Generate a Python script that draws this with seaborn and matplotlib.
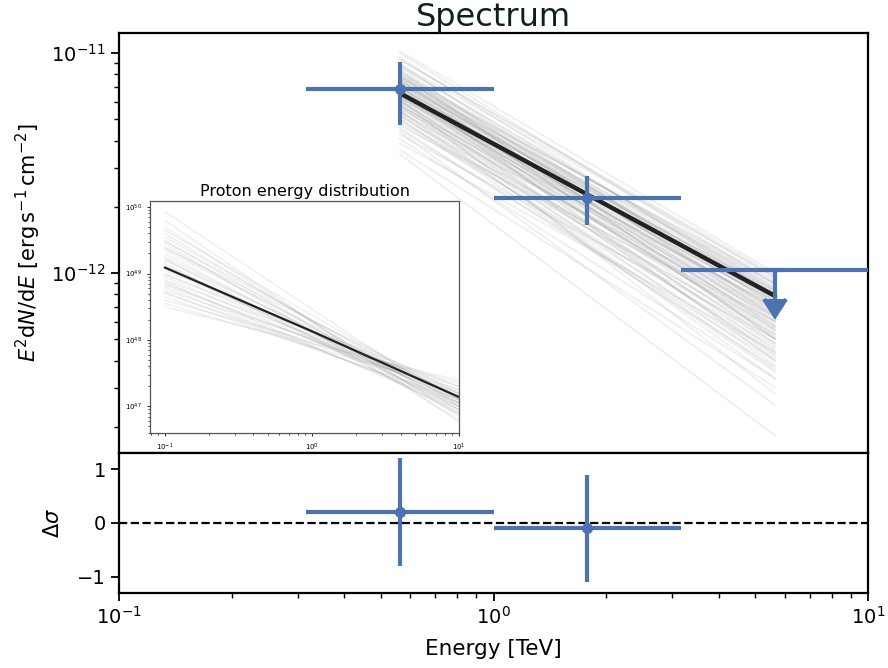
import numpy as np
import pandas as pd
import matplotlib
matplotlib.use("Agg")
import matplotlib.pyplot as plt
import seaborn as sns

# ---------------- data ----------------
point_energy = [0.562, 1.78]
point_e_lo = [0.316, 1.0]
point_e_hi = [1.0, 3.16]
point_flux = [6.86e-12, 2.20e-12]
point_flux_lo = [4.71e-12, 1.66e-12]
point_flux_hi = [9.10e-12, 2.75e-12]

ul_energy = [5.65]
ul_e_lo = [3.16]
ul_e_hi = [10.0]
ul_flux = [1.03e-12]
ul_arrow_end = [7.6e-13]

resid = [0.2, -0.1]
resid_err = [1.0, 1.0]

model_energy = [0.562, 5.65]
model_flux = [6.57e-12, 7.86e-13]

sample_log_start = [-10.99, -11.00, -11.02, -11.03, -11.05, -11.06, -11.07, -11.08,
                    -11.09, -11.10, -11.10, -11.11, -11.12, -11.12, -11.13, -11.14,
                    -11.14, -11.15, -11.16, -11.16, -11.17, -11.18, -11.18, -11.19,
                    -11.20, -11.20, -11.21, -11.22, -11.22, -11.23, -11.24, -11.24,
                    -11.25, -11.26, -11.27, -11.28, -11.29, -11.30, -11.31, -11.32,
                    -11.33, -11.35, -11.37, -11.39, -11.41, -11.44, -11.46, -11.36,
                    -11.15, -11.08, -11.05, -11.13, -11.19, -11.26, -11.21, -11.11,
                    -11.17, -11.23, -11.09, -11.28, -11.12, -11.14, -11.16, -11.18,
                    -11.19, -11.20, -11.21, -11.15, -11.13, -11.17, -11.22, -11.10,
                    -11.24, -11.18, -11.16, -11.20, -11.11, -11.25, -11.14, -11.19,
                    -11.06, -11.27, -11.30, -11.03, -11.34]
sample_log_end = [-12.00, -12.05, -12.10, -12.02, -12.15, -12.08, -12.20, -12.12,
                  -12.05, -12.18, -12.25, -12.10, -12.22, -12.30, -12.14, -12.26,
                  -12.08, -12.19, -12.32, -12.12, -12.24, -12.16, -12.35, -12.21,
                  -12.28, -12.13, -12.38, -12.18, -12.27, -12.33, -12.15, -12.42,
                  -12.22, -12.30, -12.20, -12.36, -12.25, -12.45, -12.28, -12.34,
                  -12.22, -12.40, -12.30, -12.48, -12.36, -12.52, -12.74, -12.60,
                  -12.40, -12.30, -12.02, -12.05, -12.10, -12.48, -12.55, -12.17,
                  -12.29, -12.37, -12.13, -12.44, -12.06, -12.11, -12.14, -12.17,
                  -12.20, -12.23, -12.15, -12.09, -12.07, -12.12, -12.26, -12.04,
                  -12.19, -12.10, -12.08, -12.16, -12.03, -12.24, -12.09, -12.13,
                  -12.07, -12.32, -12.39, -12.01, -12.43]

proton_energy = [0.1, 1.0, 10.0]
proton_best_log = [49.09, 48.13, 47.14]
proton_log_start = [49.93, 49.80, 49.70, 49.65, 49.60, 49.55, 49.50, 49.45, 49.40,
                    49.38, 49.35, 49.30, 49.25, 49.22, 49.20, 49.15, 49.10, 49.05,
                    49.00, 48.98, 48.95, 48.90, 48.88, 48.85, 48.80, 48.75, 48.72,
                    48.70, 48.65, 48.60, 48.55, 48.50, 49.48, 49.12, 48.83]
proton_log_end = [47.00, 46.76, 46.85, 47.10, 46.95, 47.05, 46.90, 46.80, 47.00,
                  47.20, 47.10, 46.95, 47.05, 46.88, 47.15, 46.90, 47.00, 47.20,
                  47.10, 47.30, 47.05, 47.25, 46.95, 47.15, 47.00, 47.30, 47.05,
                  47.20, 47.10, 47.35, 47.25, 47.39, 47.12, 47.08, 47.18]

BLUE = "#4C72B0"

# ---------------- style ----------------
sns.set_theme(style="ticks")
plt.rcParams["font.family"] = ["DejaVu Sans"]
plt.rcParams["mathtext.fontset"] = "dejavusans"
for k in ["text.color", "axes.labelcolor", "xtick.color", "ytick.color"]:
    plt.rcParams[k] = "black"

fig = plt.figure(figsize=(8.88, 6.68), dpi=100)
ax = fig.add_axes([0.134, 0.3219, 0.8435, 0.6287])
axr = fig.add_axes([0.134, 0.1123, 0.8435, 0.2096], sharex=ax)
axi = fig.add_axes([0.169, 0.3518, 0.348, 0.3472])

for a in (ax, axr):
    for s in a.spines.values():
        s.set_visible(True)
        s.set_color("black")
        s.set_linewidth(1.6)

# ---------------- main spectrum ----------------
samples = pd.DataFrame({
    "sample": np.repeat(np.arange(len(sample_log_start)), 2),
    "energy": np.tile(model_energy, len(sample_log_start)),
    "flux": np.power(10.0, np.column_stack([sample_log_start, sample_log_end]).ravel()),
})
sns.lineplot(data=samples, x="energy", y="flux", units="sample", estimator=None,
             color="0.45", alpha=0.11, lw=1.3, ax=ax, legend=False)
sns.lineplot(x=model_energy, y=model_flux, color="#222222", lw=3.2, ax=ax)

pe = np.array(point_energy)
pf = np.array(point_flux)
ax.errorbar(pe, pf,
            xerr=[pe - np.array(point_e_lo), np.array(point_e_hi) - pe],
            yerr=[pf - np.array(point_flux_lo), np.array(point_flux_hi) - pf],
            fmt="o", color=BLUE, ms=7, elinewidth=3, capsize=0, zorder=5)

ue = np.array(ul_energy)
uf = np.array(ul_flux)
ax.errorbar(ue, uf, xerr=[ue - np.array(ul_e_lo), np.array(ul_e_hi) - ue],
            fmt="none", ecolor=BLUE, elinewidth=3, capsize=0, zorder=5)
ax.errorbar(ue, uf, yerr=uf - np.array(ul_arrow_end), uplims=True,
            fmt="none", ecolor=BLUE, elinewidth=3, capsize=8, capthick=3, zorder=5)

ax.set_xscale("log")
ax.set_yscale("log")
ax.set_xlim(0.1, 10)
ax.set_ylim(10 ** -12.818, 10 ** -10.909)
ax.set_title("Spectrum", fontsize=23, color="#0d1f1f", pad=3)
ax.set_ylabel(r"$E^2{\rm d}N/{\rm d}E$ [erg$\,$s$^{-1}\,$cm$^{-2}$]", fontsize=15,
              labelpad=6)
ax.set_xlabel("")
ax.tick_params(axis="x", which="both", bottom=False, labelbottom=False)
ax.tick_params(axis="y", which="major", labelsize=14, length=6, width=1.3)
ax.tick_params(axis="y", which="minor", length=3.5, width=1.0)

# ---------------- residuals ----------------
rs = np.array(resid)
axr.errorbar(pe, rs,
             xerr=[pe - np.array(point_e_lo), np.array(point_e_hi) - pe],
             yerr=resid_err, fmt="o", color=BLUE, ms=7, elinewidth=3, capsize=0, zorder=5)
axr.axhline(0, color="black", ls="--", lw=1.6, zorder=3)
axr.set_ylim(-1.3, 1.3)
axr.set_yticks([-1, 0, 1])
axr.set_xlim(0.1, 10)
axr.set_xlabel("Energy [TeV]", fontsize=15.5, labelpad=8)
axr.set_ylabel(r"$\Delta\sigma$", fontsize=15, labelpad=10)
axr.tick_params(axis="both", which="major", labelsize=14, length=6, width=1.3)
axr.tick_params(axis="x", which="minor", length=3.5, width=1.0)

# ---------------- inset ----------------
psamp = pd.DataFrame({
    "sample": np.repeat(np.arange(len(proton_log_start)), 2),
    "energy": np.tile([proton_energy[0], proton_energy[-1]], len(proton_log_start)),
    "n": np.power(10.0, np.column_stack([proton_log_start, proton_log_end]).ravel()),
})
sns.lineplot(data=psamp, x="energy", y="n", units="sample", estimator=None,
             color="0.5", alpha=0.12, lw=1.1, ax=axi, legend=False)
sns.lineplot(x=proton_energy, y=np.power(10.0, proton_best_log), color="#222222",
             lw=1.6, ax=axi)
axi.set_xscale("log")
axi.set_yscale("log")
axi.set_xlim(10 ** -1.1, 10)
axi.set_ylim(10 ** 46.6, 10 ** 50.09)
axi.set_xlabel("")
axi.set_ylabel("")
axi.set_title("Proton energy distribution", fontsize=11.5, pad=4)
axi.tick_params(axis="both", which="major", labelsize=5, length=2.5, width=0.6)
axi.tick_params(axis="both", which="minor", length=1.5, width=0.5)
for s in axi.spines.values():
    s.set_visible(True)
    s.set_color("#555555")
    s.set_linewidth(0.9)

fig.savefig("out.png", dpi=100, facecolor="white")
